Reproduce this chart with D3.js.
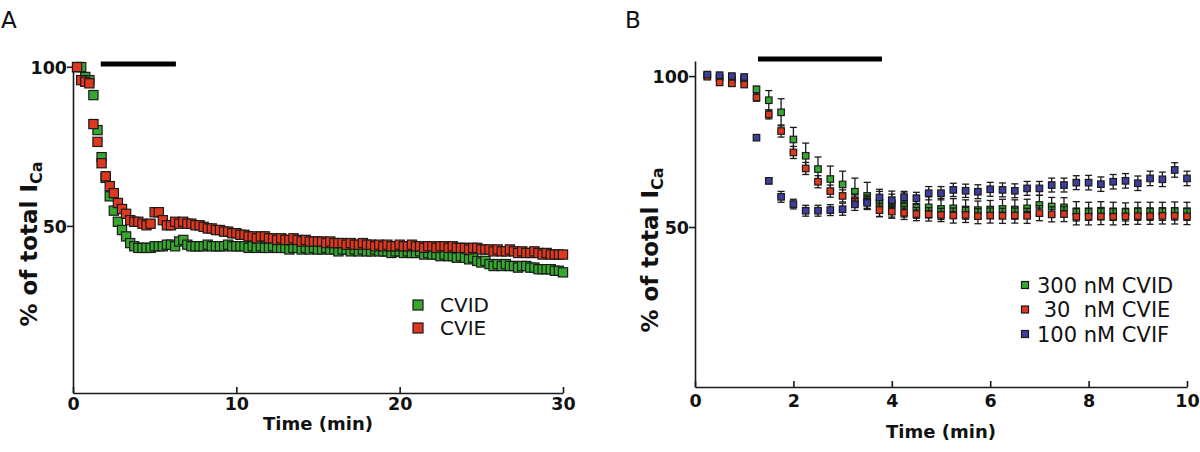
<!DOCTYPE html>
<html><head><meta charset="utf-8">
<script src="https://cdn.jsdelivr.net/npm/d3@7"></script>
<style>html,body{margin:0;padding:0;background:#fff;} svg{display:block;}</style>
</head><body>
<svg id="c" width="1200" height="452"></svg>
<script>
// ---------- Panel A data ----------
const timesA = [0.25,0.5,0.75,1,1.25,1.5,1.75,2,2.25,2.5,2.75,3,3.25,3.5,3.75,4,4.25,4.5,4.75,5,
5.25,5.5,5.75,6,6.25,6.5,6.75,7,7.25,7.5,7.75,8,8.25,8.5,8.75,9,9.25,9.5,9.75,10,
10.25,10.5,10.75,11,11.25,11.5,11.75,12,12.25,12.5,12.75,13,13.25,13.5,13.75,14,14.25,14.5,14.75,15,
15.25,15.5,15.75,16,16.25,16.5,16.75,17,17.25,17.5,17.75,18,18.25,18.5,18.75,19,19.25,19.5,19.75,20,
20.25,20.5,20.75,21,21.25,21.5,21.75,22,22.25,22.5,22.75,23,23.25,23.5,23.75,24,24.25,24.5,24.75,25,
25.25,25.5,25.75,26,26.25,26.5,26.75,27,27.25,27.5,27.75,28,28.25,28.5,28.75,29,29.25,29.5,29.75,30];
const cvidA = [99.9,99.9,96.8,95.8,91.1,80.1,71.6,65.1,59.3,54.8,
51.3,48.7,46.7,44.6,43.6,43.1,43.1,43.1,43.1,43.6,
43.6,43.6,44.1,44.1,43.6,45.1,45.6,44.1,43.6,43.6,
43.6,43.6,44.1,43.6,43.6,43.6,43.6,44.1,43.6,43.6,
43.6,43.6,43.1,43.6,43.1,43.6,43.1,43.1,43.6,43.1,43.1,43.1,42.6,43.1,43.1,42.6,43.1,42.6,43.1,42.6,
42.6,43.1,42.6,42.6,42,42.6,42.6,42,42.6,42,42.6,42,42,42.6,42,42,42,41.5,42,42,
41.5,42,41.5,41.5,42,41,41.5,41,41,40.5,41,40.5,40.5,40,40.5,40,39.5,40,39,38.5,
39,38,37.4,38,37.4,38,37.4,37.4,36.9,37.4,37.4,36.9,36.9,36.4,36.4,36.4,36.4,35.9,35.9,35.4];
const cvieA = [99.9,95.8,95.3,94.8,82,76.4,69.7,65.6,62.5,60.3,
57.2,55.3,53.8,51.8,51.3,51.3,50.7,50.2,50.7,54.3,
54.3,51.8,50.2,50.2,51.3,50.7,51.3,50.7,50.7,50.2,
50.2,49.7,49.2,49.2,48.7,48.7,48.2,48.2,47.7,47.7,
47.2,47.2,46.7,46.7,46.1,46.7,46.7,46.1,46.1,45.6,46.1,45.6,45.6,46.1,45.6,45.1,45.6,45.1,45.1,45.1,
45.1,44.6,45.1,44.6,44.6,44.6,44.1,44.6,44.1,44.1,44.6,44.1,44.1,43.6,44.1,43.6,44.1,43.6,43.6,44.1,
43.6,43.6,44.1,43.6,43.6,43.1,43.6,43.6,43.1,43.6,43.6,43.1,43.6,43.1,43.1,43.1,42.6,43.1,43.1,42.6,
42.6,42.6,42,42.6,42,42,42.6,42,41.5,42,41.5,41.5,42,41.5,41,41.5,41,41,41,41];
const stimA = [1.7, 6.3];
const ticksAx = [0, 10, 20, 30];
const ticksAy = [50, 100];
const legendA = ["CVID", "CVIE"];

// ---------- Panel B data ----------
const timesB = [0.25,0.5,0.75,1,1.25,1.5,1.75,2,2.25,2.5,2.75,3,3.25,3.5,3.75,4,4.25,4.5,4.75,5,
5.25,5.5,5.75,6,6.25,6.5,6.75,7,7.25,7.5,7.75,8,8.25,8.5,8.75,9,9.25,9.5,9.75,10];
const cvidB = [100.3,99.5,99,98.8,95.6,92,88,79,73.6,69.2,65.9,64.1,61.7,60.3,58,57.6,57.3,56.7,56.5,56,
56.2,55.8,55.6,55.8,56,55.8,56.2,57.3,56.8,56.5,55.2,55.2,55.4,55.2,55,55.2,55.2,55.2,55.3,55.2];
const cvidBerr = [0.5,0.5,0.5,0.5,1.0,3.2,4.5,4.0,4.2,4.0,4.3,4.4,4.5,4.5,4.5,4.3,4.0,3.8,3.5,3.5,
3.2,3.2,3.0,3.0,3.2,3.2,3.0,3.2,3.0,3.2,3.2,3.0,3.0,3.0,3.0,3.0,3.0,3.0,3.0,3.0];
const cvieB = [99.8,97.9,97.6,97.2,92.9,87.3,81.8,74.7,69.4,65,61.9,60.3,58.9,58.4,55.6,55.1,54.7,54.3,54.2,54,
53.8,54,53.6,53.8,53.7,53.8,53.7,54.6,54.2,54.3,53.4,53.4,53.5,53.4,53.5,53.6,53.6,53.7,53.7,53.5];
const cvieBerr = [0.5,0.8,0.8,0.8,1.2,1.5,2.0,2.0,2.0,2.0,2.0,2.0,2.0,2.2,2.2,2.2,2.2,2.2,2.2,2.2,
2.5,2.5,2.5,2.5,2.5,2.5,2.5,2.5,2.5,2.5,2.7,2.7,2.7,2.7,2.7,2.7,2.7,2.7,2.7,2.7];
const cvifB = [100.5,100.3,100,99.7,79.6,65.3,60,57.6,55.4,55.4,55.6,55.9,57.5,58,59.8,58.9,59.8,59.5,61.2,61.2,
62.3,62,61.7,62.5,62.3,62,62.8,62.8,63.9,63.9,64.7,64.7,64.2,65,65.3,64.5,66.1,65.8,68.9,66.1];
const cvifBerr = [0.5,0.5,0.5,0.5,0.8,1.0,1.8,1.6,1.8,1.8,1.8,2.0,2.0,2.0,2.0,2.0,2.0,2.0,2.2,2.2,
2.2,2.2,2.3,2.3,2.3,2.3,2.3,2.3,2.3,2.3,2.3,2.4,2.4,2.4,2.4,2.4,2.4,2.4,2.4,2.4];
const stimB = [1.28, 3.8];
const ticksBx = [0, 2, 4, 6, 8, 10];
const ticksBy = [50, 100];
const legendB = ["300 nM CVID", " 30  nM CVIE", "100 nM CVIF"];

// ---------- styling ----------
const GREEN = "#36a82f", RED = "#e0371f", BLUE = "#3e3e9e", INK = "#1a1a1a";
const FONT = "DejaVu Sans";

const svg = d3.select("#c");
svg.append("rect").attr("width",1200).attr("height",452).attr("fill","#fff");

function panel(opts) {
  const x = d3.scaleLinear().domain(opts.xdom).range(opts.xr);
  const y = d3.scaleLinear().domain(opts.ydom).range(opts.yr);
  const g = svg.append("g");

  const xa = g.append("g").attr("transform", `translate(0,${opts.yr[0]})`)
    .call(d3.axisBottom(x).tickValues(opts.xticks).tickSizeInner(-6).tickSizeOuter(0).tickFormat(d3.format("d")));
  const ya = g.append("g").attr("transform", `translate(${opts.xr[0]},0)`)
    .call(d3.axisLeft(y).tickValues(opts.yticks).tickSizeInner(6).tickSizeOuter(0).tickFormat(d3.format("d")));
  [xa, ya].forEach(a => {
    a.select(".domain").attr("stroke", INK).attr("stroke-width", 1.6);
    a.selectAll(".tick line").attr("stroke", INK).attr("stroke-width", 1.6);
    a.selectAll("text").attr("font-family", FONT).attr("font-weight", "bold")
      .attr("font-size", 17.5).attr("fill", "#111");
  });
  xa.selectAll("text").attr("y", opts.xlabOff).attr("dy", null);
  ya.selectAll("text").attr("x", -6).attr("dy", "0.36em");

  g.append("line").attr("x1", x(opts.stim[0])).attr("x2", x(opts.stim[1]))
    .attr("y1", opts.stimY).attr("y2", opts.stimY).attr("stroke", "#000").attr("stroke-width", 5);

  opts.series.forEach(s => {
    const pts = opts.times.map((t, i) => ({t, v: s.values[i], e: s.err ? s.err[i] : 0}));
    if (s.err) {
      const eg = g.append("g").attr("stroke", INK).attr("stroke-width", 1.3);
      pts.forEach(p => {
        const cx = x(p.t);
        eg.append("line").attr("x1", cx).attr("x2", cx).attr("y1", y(p.v - p.e)).attr("y2", y(p.v + p.e));
        eg.append("line").attr("x1", cx - 3.5).attr("x2", cx + 3.5).attr("y1", y(p.v - p.e)).attr("y2", y(p.v - p.e));
        eg.append("line").attr("x1", cx - 3.5).attr("x2", cx + 3.5).attr("y1", y(p.v + p.e)).attr("y2", y(p.v + p.e));
      });
    }
    g.append("g").selectAll("rect").data(pts).join("rect")
      .attr("x", d => x(d.t) - opts.ms / 2).attr("y", d => y(d.v) - opts.ms / 2)
      .attr("width", opts.ms).attr("height", opts.ms)
      .attr("fill", s.color).attr("stroke", INK).attr("stroke-width", 1.2);
  });

  g.append("text").attr("x", (opts.xr[0] + opts.xr[1]) / 2).attr("y", opts.xtitleY)
    .attr("text-anchor", "middle").attr("font-family", FONT).attr("font-weight", "bold")
    .attr("font-size", 18).attr("fill", "#111").text("Time (min)");
  const yt = g.append("text").attr("transform", `translate(${opts.ytitleX},${opts.ytitleY}) rotate(-90)`)
    .attr("text-anchor", "middle").attr("font-family", FONT).attr("font-weight", "bold")
    .attr("font-size", 23).attr("fill", "#111");
  yt.append("tspan").text("% of total I");
  yt.append("tspan").attr("font-size", 16).attr("dy", 5).text("Ca");

  g.append("text").attr("x", opts.letterX).attr("y", 28).attr("font-family", FONT)
    .attr("font-size", 23).attr("fill", "#111").text(opts.letter);

  opts.legend.forEach((name, i) => {
    const ly = opts.legY + i * opts.legDy;
    g.append("rect").attr("x", opts.legX - opts.legMs / 2).attr("y", ly - opts.legMs / 2)
      .attr("width", opts.legMs).attr("height", opts.legMs)
      .attr("fill", opts.series[i].color).attr("stroke", INK).attr("stroke-width", 1.2);
    g.append("text").attr("x", opts.legTx).attr("y", ly).attr("dy", "0.36em")
      .attr("font-family", FONT).attr("font-size", opts.legFs).attr("fill", "#111")
      .attr("xml:space", "preserve").style("white-space", "pre").text(name);
  });
}

panel({
  xdom: [0, 30], xr: [73, 563], ydom: [-2.5, 101.5], yr: [393, 62],
  xticks: ticksAx, yticks: ticksAy, xlabOff: 17,
  stim: stimA, stimY: 64, times: timesA, ms: 9.2,
  series: [{values: cvidA, color: GREEN}, {values: cvieA, color: RED}],
  xtitleY: 430, ytitleX: 37, ytitleY: 244, letter: "A", letterX: 1,
  legend: legendA, legX: 418, legTx: 440, legY: 305, legDy: 23, legMs: 10, legFs: 20
});

panel({
  xdom: [0, 10], xr: [695, 1187], ydom: [-3, 105], yr: [387, 61],
  xticks: ticksBx, yticks: ticksBy, xlabOff: 20,
  stim: stimB, stimY: 59, times: timesB, ms: 6.5,
  series: [{values: cvidB, err: cvidBerr, color: GREEN}, {values: cvieB, err: cvieBerr, color: RED}, {values: cvifB, err: cvifBerr, color: BLUE}],
  xtitleY: 438, ytitleX: 658, ytitleY: 250, letter: "B", letterX: 625,
  legend: legendB, legX: 1025, legTx: 1037, legY: 285, legDy: 24.5, legMs: 7, legFs: 21
});
</script>
</body></html>
